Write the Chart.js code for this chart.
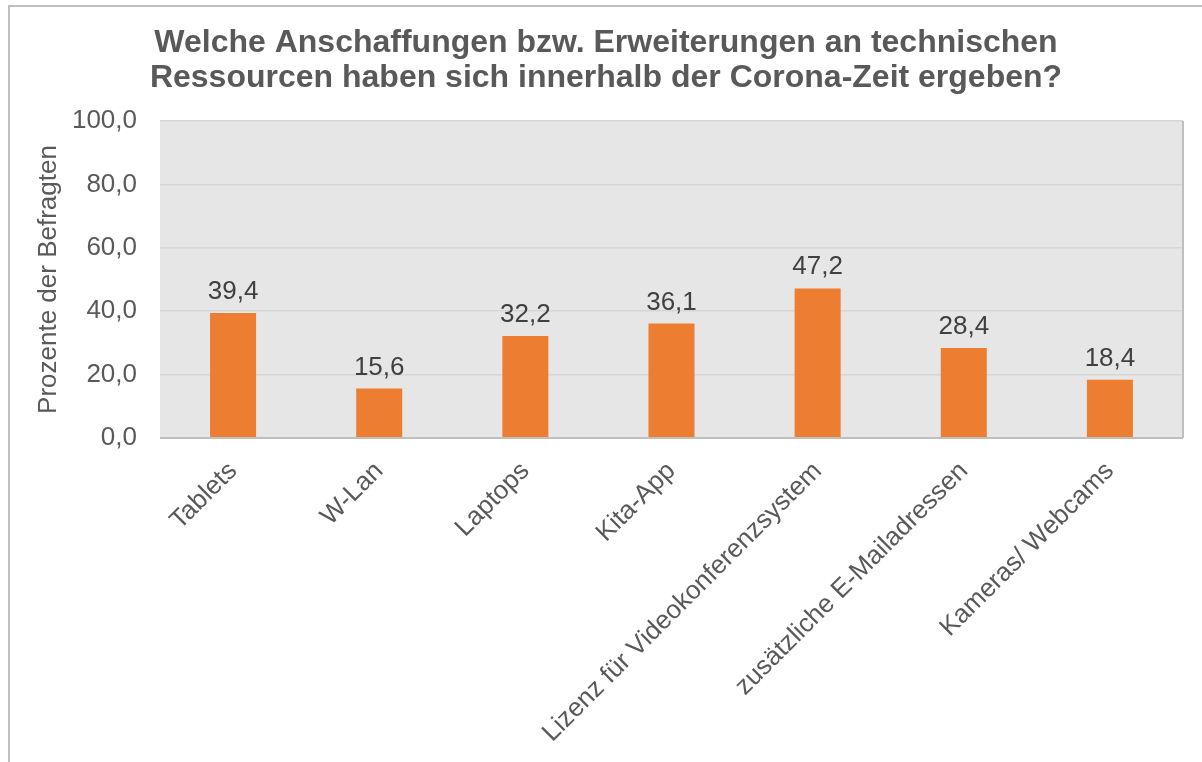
<!DOCTYPE html>
<html><head><meta charset="utf-8">
<script src="https://cdn.jsdelivr.net/npm/chart.js@4/dist/chart.umd.min.js"></script>
<style>
html,body{margin:0;padding:0;background:#fff;overflow:hidden;}
#frame{position:absolute;left:8px;top:5px;width:1400px;height:1000px;border:2px solid #c0c0c0;box-sizing:border-box;}
#wrap{position:absolute;left:0;top:0;width:1202px;height:762px;}
</style></head><body>
<div id="frame"></div>
<div id="wrap"><canvas id="c" width="1202" height="762"></canvas></div>
<script>
const categories = ["Tablets","W-Lan","Laptops","Kita-App","Lizenz für Videokonferenzsystem","zusätzliche E-Mailadressen","Kameras/ Webcams"];
const values = [39.4,15.6,32.2,36.1,47.2,28.4,18.4];
const titleLines = ["Welche Anschaffungen bzw. Erweiterungen an technischen","Ressourcen haben sich innerhalb der Corona-Zeit ergeben?"];
const yTitle = "Prozente der Befragten";
const yMin = 0, yMax = 100, yStep = 20;

const FONT = "'Liberation Sans', Arial, sans-serif";
const fmt = v => v.toFixed(1).replace('.', ',');

const bgPlugin = {
  id: 'bg',
  beforeDraw(chart) {
    const {ctx, chartArea: a} = chart;
    ctx.save();
    ctx.fillStyle = '#e6e6e6';
    ctx.fillRect(a.left, a.top, a.right - a.left, a.bottom - a.top);
    ctx.restore();
  },
  afterDatasetsDraw(chart) {
    const {ctx, chartArea: a} = chart;
    ctx.save();
    ctx.strokeStyle = '#bfbfbf';
    ctx.lineWidth = 2;
    ctx.beginPath();
    ctx.moveTo(a.right, a.top);
    ctx.lineTo(a.right, a.bottom);
    ctx.moveTo(a.left, a.bottom);
    ctx.lineTo(a.right, a.bottom);
    ctx.stroke();
    // data labels
    const meta = chart.getDatasetMeta(0);
    ctx.fillStyle = '#404040';
    ctx.font = "26px " + FONT;
    ctx.textAlign = 'center';
    ctx.textBaseline = 'alphabetic';
    meta.data.forEach((bar, i) => {
      ctx.fillText(fmt(values[i]), bar.x, bar.y - 14);
    });
    // title
    ctx.fillStyle = '#595959';
    ctx.font = "bold 32px " + FONT;
    ctx.fillText(titleLines[0], 606, 52);
    ctx.fillText(titleLines[1], 606, 87);
    ctx.restore();
  }
};

new Chart(document.getElementById('c'), {
  type: 'bar',
  data: {
    labels: categories,
    datasets: [{
      data: values,
      backgroundColor: '#ed7d31',
      borderWidth: 0,
      categoryPercentage: 1,
      barPercentage: 0.315
    }]
  },
  options: {
    responsive: false,
    animation: false,
    devicePixelRatio: 1,
    layout: {padding: {left: 0, right: 19, top: 121, bottom: 0}},
    plugins: {legend: {display: false}, tooltip: {enabled: false}, title: {display: false}},
    scales: {
      y: {
        min: yMin, max: yMax,
        afterFit(s) { s.width = 160; },
        ticks: {stepSize: yStep, color: '#595959', font: {family: FONT, size: 26}, padding: 23,
          callback: v => fmt(v)},
        grid: {color: '#d6d6d6', lineWidth: 1.5, drawTicks: false},
        border: {display: false},
        title: {display: true, text: yTitle, color: '#595959', font: {family: FONT, size: 26}, padding: {top: 33, bottom: 0}}
      },
      x: {
        afterFit(s) { s.height = 762 - 438; },
        ticks: {color: '#595959', font: {family: FONT, size: 26}, minRotation: 45, maxRotation: 45, padding: 10, autoSkip: false},
        grid: {display: false},
        border: {display: false}
      }
    }
  },
  plugins: [bgPlugin]
});
</script>
</body></html>
